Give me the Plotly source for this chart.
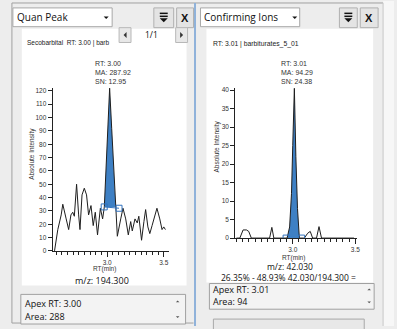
import plotly.graph_objects as go

# ---------------- data ----------------
left_rt = [2.535, 2.564, 2.594, 2.608, 2.638, 2.66, 2.68, 2.696, 2.71, 2.73, 2.748, 2.76, 2.778,
           2.798, 2.818, 2.836, 2.857, 2.877, 2.895, 2.915, 2.94, 2.96, 2.975, 2.99, 3.005, 3.022,
           3.04, 3.058, 3.075, 3.09, 3.12, 3.14, 3.164, 3.187, 3.208, 3.222, 3.246, 3.266, 3.28,
           3.304, 3.325, 3.34, 3.36, 3.377, 3.397, 3.42, 3.44, 3.465, 3.485, 3.5, 3.515]
left_int = [0, 16, 27, 35, 24, 16, 27, 29, 26, 50, 27, 16, 42,
            47, 42, 27, 34, 19, 29, 12, 32, 24, 33, 62, 98, 122,
            92, 60, 36, 11, 24, 32, 24, 12, 22, 15, 24, 21, 26,
            8, 22, 31, 18, 13, 19, 26, 32, 24, 16, 18, 16]
left_peak_start, left_peak_end = 22, 29      # index range of the integrated peak
left_base_rt = [2.974, 3.105]
left_base_int = [33, 32]

right_rt = [2.55, 2.577, 2.603, 2.63, 2.648, 2.669, 2.815, 2.833, 2.849, 2.955, 2.975, 2.99,
            3.0, 3.013, 3.025, 3.038, 3.053, 3.093, 3.119, 3.14, 3.159, 3.19, 3.21, 3.23, 3.49]
right_int = [0, 0, 2.2, 2.2, 1.8, 0, 0, 2.9, 0, 0, 3, 12,
             25, 40.5, 22, 8, 0, 0, 1.3, 1.8, 0, 0, 3.1, 0, 0]
right_peak_start, right_peak_end = 9, 17
right_base_rt = [2.947, 3.071]
right_base_int = [0, 0]

left_info = ["Apex RT: 3.00", "Area: 288"]
right_info = ["Apex RT: 3.01", "Area: 94"]

# ---------------- helpers ----------------
W, H = 397, 329
def X(p): return p / W
def Y(p): return 1 - p / H

BLUE_FILL = "rgb(62,128,196)"
BLUE_LINE = "rgb(50,115,190)"
DARK = "#1e1e1e"
CHART_FONT = "Liberation Sans, Arial"
UI_FONT = "Open Sans, Noto Sans"

fig = go.Figure()

# left chart
lpx = left_rt[left_peak_start:left_peak_end]
lpy = left_int[left_peak_start:left_peak_end]
fig.add_trace(go.Scatter(x=lpx + [lpx[-1], lpx[0]], y=lpy + [left_base_int[0], left_base_int[0]],
                         fill="toself", fillcolor=BLUE_FILL, line=dict(width=0), mode="lines",
                         xaxis="x", yaxis="y", hoverinfo="skip"))
fig.add_trace(go.Scatter(x=left_rt, y=left_int, mode="lines", line=dict(color=DARK, width=1),
                         xaxis="x", yaxis="y"))
fig.add_trace(go.Scatter(x=left_base_rt, y=left_base_int, mode="lines+markers",
                         line=dict(color=BLUE_LINE, width=1),
                         marker=dict(symbol="square-open", size=6, color=BLUE_LINE, line=dict(width=1)),
                         xaxis="x", yaxis="y"))

# right chart
rpx = right_rt[right_peak_start:right_peak_end]
rpy = right_int[right_peak_start:right_peak_end]
fig.add_trace(go.Scatter(x=rpx, y=rpy, fill="tozeroy", fillcolor=BLUE_FILL, line=dict(width=0),
                         mode="lines", xaxis="x2", yaxis="y2", hoverinfo="skip"))
fig.add_trace(go.Scatter(x=right_rt, y=right_int, mode="lines", line=dict(color=DARK, width=1),
                         xaxis="x2", yaxis="y2"))
fig.add_trace(go.Scatter(x=right_base_rt, y=right_base_int, mode="markers",
                         marker=dict(symbol="square-open", size=6, color=BLUE_LINE, line=dict(width=1)),
                         xaxis="x2", yaxis="y2"))

ax_common = dict(showline=True, linecolor="#222", linewidth=1, ticks="outside", tickcolor="#222",
                 showgrid=False, zeroline=False, tickfont=dict(size=6.5, color="#333", family=CHART_FONT),
                 fixedrange=True)
xa = dict(ax_common, tick0=3.0, dtick=0.5, tickformat=".1f", ticklen=5,
          minor=dict(dtick=0.05, tick0=3.0, ticks="outside", ticklen=3, tickcolor="#222"))

fig.update_layout(
    width=W, height=H, margin=dict(l=0, r=0, t=0, b=0),
    paper_bgcolor="#ededed", plot_bgcolor="rgba(0,0,0,0)", showlegend=False,
    xaxis=dict(xa, domain=[X(53), X(170)], range=[2.518, 3.544], anchor="y"),
    yaxis=dict(ax_common, domain=[Y(253), Y(88)], range=[0, 122.2], dtick=10, ticklen=4, anchor="x"),
    xaxis2=dict(xa, domain=[X(237), X(360)], range=[2.54, 3.516], anchor="y2"),
    yaxis2=dict(ax_common, domain=[Y(240), Y(88)], range=[0, 40.6], dtick=5, ticklen=4, anchor="x2"),
)

shapes = []
def rect(x0, y0, x1, y1, fill=None, line="#a0a0a0", lw=1, layer="below"):
    shapes.append(dict(type="rect", xref="paper", yref="paper", x0=X(x0), x1=X(x1), y0=Y(y1), y1=Y(y0),
                       fillcolor=fill if fill else "rgba(0,0,0,0)",
                       line=dict(color=line if line else "rgba(0,0,0,0)", width=lw if line else 0),
                       layer=layer))
def hline(x0, x1, y, color="#a0a0a0", lw=1, layer="below"):
    shapes.append(dict(type="line", xref="paper", yref="paper", x0=X(x0), x1=X(x1), y0=Y(y), y1=Y(y),
                       line=dict(color=color, width=lw), layer=layer))
def vline(x, y0, y1, color="#a0a0a0", lw=1, layer="below"):
    shapes.append(dict(type="line", xref="paper", yref="paper", x0=X(x), x1=X(x), y0=Y(y0), y1=Y(y1),
                       line=dict(color=color, width=lw), layer=layer))
def tri(cx, cy, s, down=True, color="#111", layer="above"):
    if down:
        pts = [(cx - s, cy - s / 2), (cx + s, cy - s / 2), (cx, cy + s / 2)]
    else:
        pts = [(cx - s, cy + s / 2), (cx + s, cy + s / 2), (cx, cy - s / 2)]
    path = "M " + " L ".join(f"{X(a)},{Y(b)}" for a, b in pts) + " Z"
    shapes.append(dict(type="path", xref="paper", yref="paper", path=path, fillcolor=color,
                       line=dict(width=0), layer=layer))
def tri_lr(cx, cy, s, left=True, color="#333"):
    if left:
        pts = [(cx + s / 2, cy - s), (cx + s / 2, cy + s), (cx - s / 2, cy)]
    else:
        pts = [(cx - s / 2, cy - s), (cx - s / 2, cy + s), (cx + s / 2, cy)]
    path = "M " + " L ".join(f"{X(a)},{Y(b)}" for a, b in pts) + " Z"
    shapes.append(dict(type="path", xref="paper", yref="paper", path=path, fillcolor=color,
                       line=dict(width=0), layer="above"))

# right-edge light strip
rect(386, 0, 397, 329, fill="#f7f7f7", line=None)
# panel frames
hline(12, 386, 2)
vline(12, 2, 326)
hline(12, 195, 326)
vline(386, 2, 329, color="#c8c8c8")
# divider
vline(196.5, 2, 329, color="#8fb2da", lw=2)
# white chart areas
rect(22, 28, 188, 288, fill="white", line=None)
rect(208, 28, 376, 285, fill="white", line=None)

# dropdowns
rect(13, 7, 113, 26, fill="white", line="#a8a8a8")
rect(202, 7, 302, 26, fill="white", line="#a8a8a8")
tri(107, 17, 2.5)
tri(297, 17, 2.5)
# buttons
for bx0, bx1 in [(155, 175), (178, 195), (342, 360), (363, 381)]:
    rect(bx0, 7, bx1, 27, fill="#e4e4e4", line="#b0b0b0", layer="above")
for cx in [165, 351]:
    hline(cx - 4, cx + 4, 12.5, color="#111", lw=1.5, layer="above")
    hline(cx - 4, cx + 4, 15.5, color="#111", lw=1.5, layer="above")
    tri(cx, 19.5, 4)
# pager
rect(120, 27, 132, 42, fill="#e8e8e8", line="#b8b8b8", layer="above")
rect(177, 27, 189, 42, fill="#e8e8e8", line="#b8b8b8", layer="above")
tri_lr(126, 34.5, 3, left=True)
tri_lr(183, 34.5, 3, left=False)

# info boxes
rect(21, 297, 187, 327, fill="#f3f3f3", line="#a0a0a0")
rect(211, 286, 377, 312, fill="#f3f3f3", line="#a0a0a0")
tri(179, 304, 1.8, down=False, color="#555")
tri(179, 320, 1.8, down=True, color="#555")
tri(372, 292, 1.8, down=False, color="#555")
tri(372, 305, 1.8, down=True, color="#555")
# bottom right control
rect(215, 322, 367, 335, fill="#e8e8e8", line="#a8a8a8")
fig.update_layout(shapes=shapes)

ann = []
def text(x, y, s, size=7, family=CHART_FONT, anchor="left", color="#222", angle=0, bold=False):
    ann.append(dict(x=X(x), y=Y(y), xref="paper", yref="paper", text=f"<b>{s}</b>" if bold else s,
                    showarrow=False, xanchor=anchor, yanchor="middle", textangle=angle,
                    font=dict(size=size, family=family, color=color)))

text(15, 16.5, "Quan Peak", size=10, family=UI_FONT, color="#111")
text(204, 16.5, "Confirming Ions", size=10, family=UI_FONT, color="#111")
text(186.5, 17, "X", size=11, family="Liberation Sans", anchor="center", color="#111", bold=True)
text(372, 17, "X", size=11, family="Liberation Sans", anchor="center", color="#111", bold=True)
text(153, 34, "1/1", size=8.5, family=UI_FONT, anchor="center", color="#111")
text(25, 43, "Secobarbital  RT: 3.00 | barb", size=6.5, color="#222")
text(213, 44, "RT: 3.01 | barbiturates_5_01", size=6.8, color="#222")
for i, s in enumerate(["RT: 3.00", "MA: 287.92", "SN: 12.95"]):
    text(93.5, 63.5 + i * 9, s, size=7, color="#333")
for i, s in enumerate(["RT: 3.01", "MA: 94.29", "SN: 24.38"]):
    text(281, 63.5 + i * 9, s, size=7, color="#333")
text(32, 155, "Absolute Intensity", size=6.5, anchor="center", angle=-90, color="#333")
text(219, 147, "Absolute Intensity", size=6.5, anchor="center", angle=-90, color="#333")
text(105, 271, "RT(min)", size=6.5, anchor="center", color="#333")
text(296, 260.5, "RT(min)", size=6.5, anchor="center", color="#333")
text(103, 283, "m/z: 194.300", size=9, family=UI_FONT, anchor="center", color="#111")
text(292, 268.5, "m/z: 42.030", size=8.5, family=UI_FONT, anchor="center", color="#111")
text(291, 280, "26.35% - 48.93% 42.030/194.300 =", size=8.5, family=UI_FONT, anchor="center", color="#111")
text(23, 306, left_info[0], size=9, family=UI_FONT, color="#111")
text(23, 319, left_info[1], size=9, family=UI_FONT, color="#111")
text(213, 292, right_info[0], size=9, family=UI_FONT, color="#111")
text(213, 304, right_info[1], size=9, family=UI_FONT, color="#111")
fig.update_layout(annotations=ann)

fig.write_html("out.html")
